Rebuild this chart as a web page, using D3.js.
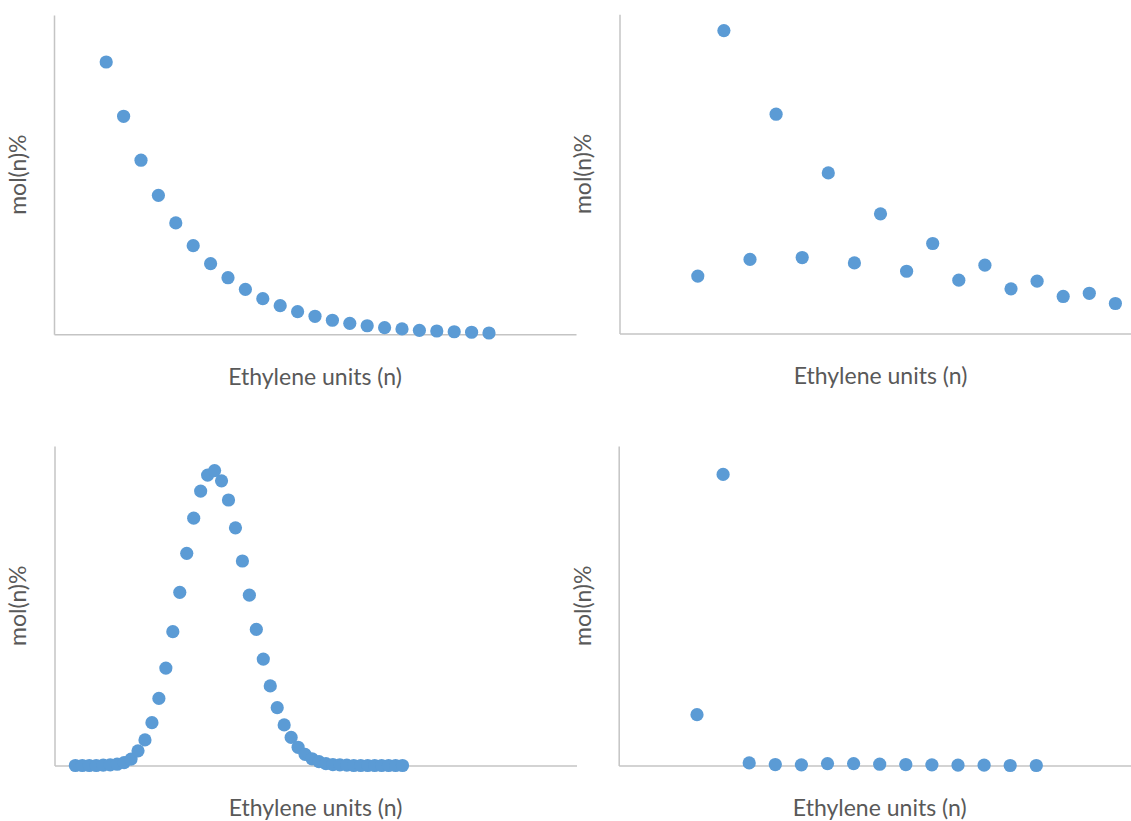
<!DOCTYPE html>
<html>
<head>
<meta charset="utf-8">
<script src="https://cdn.jsdelivr.net/npm/d3@7"></script>
<style>
  html, body { margin: 0; padding: 0; background: #fff; }
  svg { display: block; }
  text { font-family: Lato, "Open Sans", sans-serif; fill: #595959; }
</style>
</head>
<body>
<svg id="chart" width="1131" height="821"></svg>
<script>
// ---- Data ----
const xLabel = "Ethylene units (n)";
const yLabel = "mol(n)%";

// Panel A (top-left): decaying distribution
const nA = [3,4,5,6,7,8,9,10,11,12,13,14,15,16,17,18,19,20,21,22,23,24,25];
const molA = [21.32,17.07,13.63,10.88,8.72,6.94,5.53,4.43,3.52,2.79,2.24,1.77,1.41,1.10,0.86,0.67,0.52,0.42,0.31,0.26,0.20,0.16,0.10];

// Panel B (top-right): odd/even alternating distribution
const nB = [3,4,5,6,7,8,9,10,11,12,13,14,15,16,17,18,19];
const molB = [1.80,9.49,2.32,6.87,2.38,5.03,2.21,3.75,1.95,2.82,1.67,2.14,1.40,1.64,1.16,1.26,0.94];

// Panel C (bottom-left): bell-shaped distribution
const nC = [3,4,5,6,7,8,9,10,11,12,13,14,15,16,17,18,19,20,21,22,23,24,25,26,27,28,29,30,31,32,33,34,35,36,37,38,39,40,41,42,43,44,45,46,47,48,49,50];
const molC = [0,0,0,0,0.01,0.02,0.04,0.09,0.20,0.46,0.80,1.34,2.10,3.05,4.19,5.42,6.64,7.74,8.59,9.09,9.23,8.91,8.31,7.44,6.40,5.33,4.26,3.33,2.49,1.81,1.27,0.88,0.57,0.35,0.21,0.12,0.06,0.03,0.02,0.01,0,0,0,0,0,0,0,0];

// Panel D (bottom-right): single dominant product
const nD = [3,4,5,6,7,8,9,10,11,12,13,14,15,16];
const molD = [1.59,9.11,0.08,0.03,0.02,0.06,0.06,0.04,0.03,0.02,0.01,0.01,0.0,0.0];

// Axis domains
const xMaxA = 30, xMaxB = 20, xMaxC = 75, xMaxD = 20;
const yMaxA = 25, yMaxB = 10, yMaxC = 10, yMaxD = 10;

// ---- Layout ----
const panels = [
  { n: nA, v: molA, xMax: xMaxA, yMax: yMaxA, left: 54,    top: 15,   bottom: 334.3 },
  { n: nB, v: molB, xMax: xMaxB, yMax: yMaxB, left: 619.5, top: 14.3, bottom: 333.5 },
  { n: nC, v: molC, xMax: xMaxC, yMax: yMaxC, left: 54.5,  top: 446,  bottom: 765.5 },
  { n: nD, v: molD, xMax: xMaxD, yMax: yMaxD, left: 618.7, top: 446,  bottom: 765.5 }
];
const plotW = 522;
const dotColor = "#5B9BD5";
const axisColor = "#C4C4C4";

const svg = d3.select("#chart");

panels.forEach(p => {
  const x = d3.scaleLinear().domain([0, p.xMax]).range([p.left, p.left + plotW]);
  const y = d3.scaleLinear().domain([0, p.yMax]).range([p.bottom, p.top]);
  const g = svg.append("g");

  // axes (lines only, no ticks/labels)
  const xa = g.append("g")
    .attr("transform", `translate(0,${p.bottom})`)
    .call(d3.axisBottom(x).tickValues([]).tickSizeOuter(0));
  const ya = g.append("g")
    .attr("transform", `translate(${p.left},0)`)
    .call(d3.axisLeft(y).tickValues([]).tickSizeOuter(0));
  [xa, ya].forEach(a => a.select(".domain").attr("stroke", axisColor).attr("stroke-width", 1.5));

  // points
  g.selectAll("circle")
    .data(p.n.map((d, i) => ({ n: d, v: p.v[i] })))
    .join("circle")
    .attr("cx", d => x(d.n))
    .attr("cy", d => y(d.v))
    .attr("r", 6.6)
    .attr("fill", dotColor);

  // axis titles
  g.append("text")
    .attr("x", p.left + plotW / 2)
    .attr("y", p.bottom + 44.5)
    .attr("text-anchor", "middle")
    .attr("dominant-baseline", "middle")
    .style("font-size", "23px")
    .text(xLabel);

  g.append("text")
    .attr("transform", `translate(${p.left - 34},${(p.top + p.bottom) / 2}) rotate(-90)`)
    .attr("text-anchor", "middle")
    .attr("dominant-baseline", "middle")
    .style("font-size", "23px")
    .text(yLabel);
});
</script>
</body>
</html>
